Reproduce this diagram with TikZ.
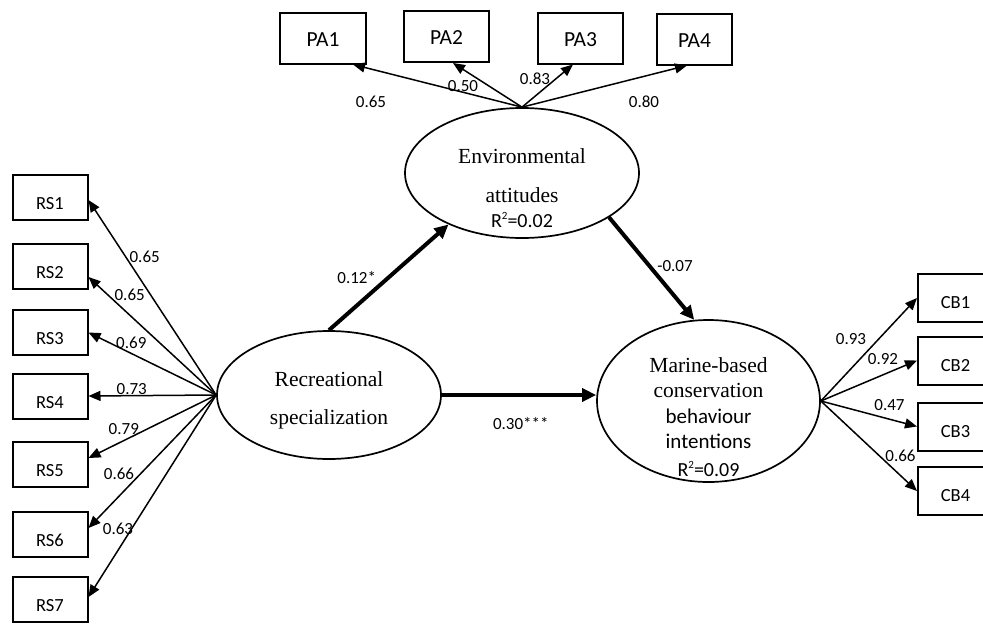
\documentclass[tikz,border=0pt]{standalone}
\usepackage{fontspec}
\setmainfont{Liberation Serif}
\newfontfamily\calibri{Carlito}
\usetikzlibrary{arrows.meta,shapes.geometric}

\newcommand{\rsq}{R\raisebox{0.8ex}{\fontsize{11}{11}\selectfont 2}}

\tikzset{
  latent/.style={draw, ellipse, line width=1.7pt, inner sep=0pt},
  indicator/.style={draw, rectangle, line width=2pt, inner sep=0pt,
    minimum width=75pt, minimum height=45pt, text depth=0pt,
    font=\calibri\fontsize{18.5}{18.5}\selectfont},
  loading/.style={line width=1.5pt, -{Triangle[length=12pt,width=10pt]}},
  effect/.style={line width=4pt, -{Triangle[length=14pt,width=13pt]}},
  coef/.style={inner sep=0pt, font=\calibri\fontsize{17}{17}\selectfont},
  serifline/.style={anchor=base, inner sep=0pt, font=\fontsize{21.5}{21.5}\selectfont},
  sansline/.style={anchor=base, inner sep=0pt, font=\calibri\fontsize{21}{21}\selectfont},
}

\begin{document}
\begin{tikzpicture}[x=1pt, y=-1pt]
  \useasboundingbox (0,0) rectangle (983,624);

  % Latent variables
  \node[latent, minimum width=234pt, minimum height=130pt] (env) at (522,173) {};
  \node[latent, minimum width=224pt, minimum height=128pt] (rec) at (329,395) {};
  \node[latent, minimum width=223pt, minimum height=162pt] (cbi) at (708.5,401) {};

  % Texts inside the ellipses
  \node[serifline] (envt1) at (522,163) {Environmental};
  \node[serifline] (envt2) at (522,202) {attitudes};
  \node[sansline, font=\calibri\fontsize{20}{20}\selectfont] (envr2) at (522,227) {\rsq=0.02};
  \node[serifline] (rect1) at (329,386) {Recreational};
  \node[serifline] (rect2) at (329,424) {specialization};
  \node[serifline] (cbit1) at (708.5,372) {Marine-based};
  \node[serifline] (cbit2) at (708.5,397) {conservation};
  \node[sansline] (cbit3) at (708.5,423) {behaviour};
  \node[sansline] (cbit4) at (708.5,448) {intentions};
  \node[sansline, font=\calibri\fontsize{20}{20}\selectfont] (cbir2) at (708.5,476) {\rsq=0.09};

  % Indicators
  \foreach \i/\y in {1/197.5,2/266.5,3/332.5,4/396,5/464.5,6/534,7/599}
    \node[indicator, text height=24pt] (rs\i) at (50,\y) {RS\i};
  \foreach \i/\x/\y/\w in {1/323/38/86,2/446.5/36.5/85,3/580.5/38/85,4/694.5/39/75}
    \node[indicator, minimum width=\w pt, minimum height=51pt, text height=16.5pt,
      font=\calibri\fontsize{21.5}{21.5}\selectfont] (pa\i) at (\x,\y) {PA\i};
  \foreach \i/\y in {1/298,2/360.5,3/426.5,4/491}
    \node[indicator, minimum height=48pt, text height=21pt] (cb\i) at (955.5,\y) {CB\i};

  % Structural paths
  \draw[effect] (rec.north) -- (env.215);
  \draw[effect] (rec.east) -- (rec.east -| cbi.west);
  \draw[effect] (env.-27) -- (cbi.100);

  % Loadings
  \foreach \i/\s in {1/-2.5,2/-10.5,3/0,4/0,5/6.5,6/6,7/2}
    \draw[loading] (rec.west) -- ([yshift=\s pt]rs\i.east);
  \foreach \i/\s in {1/30,2/6.5,3/-7.5,4/-7.5}
    \draw[loading] (env.north) -- ([xshift=\s pt]pa\i.south);
  \foreach \i in {1,...,4}
    \draw[loading] (cbi.east) -- (cb\i.west);

  % Coefficients
  \foreach \i/\x/\y/\v in {1/144.7/256.7/0.65,2/129.7/295/0.65,3/131.3/343/0.69,
      4/131.7/388.7/0.73,5/123.8/429/0.79,6/119/473.7/0.66,7/118/528.7/0.63}
    \node[coef] (crs\i) at (\x,\y) {\v};
  \foreach \i/\x/\y/\v in {1/371/102/0.65,2/463/86/0.50,3/535/79/0.83,4/644/102/0.80}
    \node[coef] (cpa\i) at (\x,\y) {\v};
  \foreach \i/\x/\y/\v in {1/851/338.7/0.93,2/883/359/0.92,3/889.5/405/0.47,4/900.5/456/0.66}
    \node[coef] (ccb\i) at (\x,\y) {\v};
  \node[coef] (c12) at (356.7,277.5) {0.12*};
  \node[coef] (c30) at (520.8,423.5) {0.30***};
  \node[coef] (c07) at (675,266.5) {-0.07};
\end{tikzpicture}
\end{document}
